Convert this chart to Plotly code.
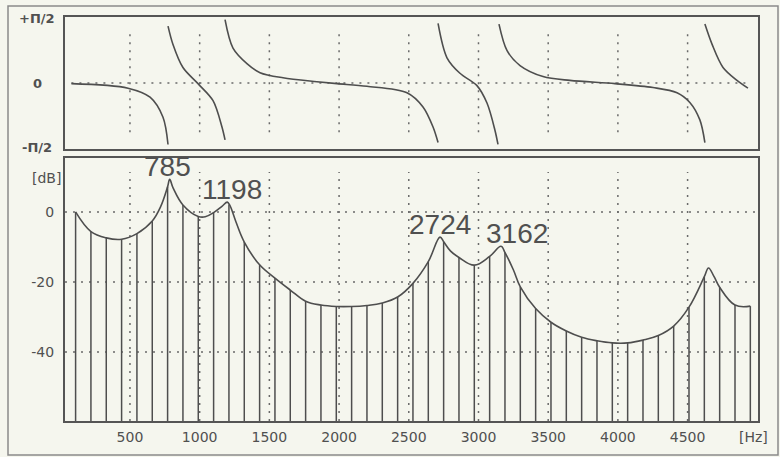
import plotly.graph_objects as go

# ---------------- data ----------------
# Spectral envelope (Hz, dB)
env_hz = [110, 220, 330, 440, 550, 660, 720, 770, 785, 810, 880, 990, 1040, 1100, 1160, 1198,
          1215, 1260, 1320, 1430, 1540, 1650, 1760, 1870, 1980, 2090, 2200, 2310, 2420,
          2530, 2640, 2724, 2750, 2800, 2860, 2970, 3080, 3162, 3190, 3250, 3300, 3410,
          3520, 3630, 3740, 3850, 3960, 4070, 4180, 4290, 4400, 4510, 4620, 4650, 4690,
          4730, 4840, 4950]
env_db = [0.0, -5.6, -7.4, -7.8, -6.2, -2.6, 1.5, 7.2, 9.3, 6.8, 2.0, -1.3, -1.4, -0.2, 1.6, 2.8,
          2.0, -2.8, -8.6, -15.1, -18.9, -22.3, -25.5, -26.6, -27.0, -27.0, -26.7, -26.0, -24.3,
          -20.4, -14.2, -7.2, -8.5, -11.2, -13.0, -15.2, -12.7, -9.8, -11.6, -16.5, -21.4, -27.6,
          -31.5, -34.0, -35.8, -36.8, -37.4, -37.4, -36.6, -35.3, -32.6, -27.2, -18.5, -16.0, -18.5,
          -21.5, -26.6, -26.9]

# Harmonic lines (Hz, dB)
harm_hz = [110, 220, 330, 440, 550, 660, 770, 880, 990, 1100, 1210, 1320, 1430, 1540, 1650,
           1760, 1870, 1980, 2090, 2200, 2310, 2420, 2530, 2640, 2750, 2860, 2970, 3080, 3190,
           3300, 3410, 3520, 3630, 3740, 3850, 3960, 4070, 4180, 4290, 4400, 4510, 4620, 4730,
           4840, 4950]
harm_db = [0.0, -5.6, -7.4, -7.8, -6.2, -2.6, 7.2, 2.0, -1.3, -0.2, 2.1, -8.6, -15.1, -18.9, -22.3,
           -25.5, -26.6, -27.0, -27.0, -26.7, -26.0, -24.3, -20.4, -14.2, -8.5, -13.0, -15.2, -12.7, -11.6,
           -21.4, -27.6, -31.5, -34.0, -35.8, -36.8, -37.4, -37.4, -36.6, -35.3, -32.6, -27.2, -18.5, -21.5,
           -26.6, -26.9]

# Formant peaks
peak_hz = [785, 1198, 2724, 3162]
peak_db = [9.3, 2.8, -7.2, -9.8]
peak_xshift = [-2, 5, 0, 16]

# Phase (in units of pi/2), branches separated by None
phase_hz = [80, 486, 644, 737, 773, None,
            773, 808, 880, 988, 1095, 1160, 1182, None,
            1182, 1239, 1339, 1433, 1598, 1841, 1985, 2200, 2487, 2602, 2674, 2710, None,
            2710, 2774, 2867, 2989, 3061, 3118, 3140, None,
            3147, 3205, 3298, 3463, 3656, 3979, 4252, 4424, 4516, 4588, 4624, None,
            4624, 4675, 4754, 4854, 4933]
phase_val = [-0.01, -0.08, -0.22, -0.53, -0.95, None,
             0.88, 0.60, 0.24, -0.01, -0.27, -0.68, -0.88, None,
             0.98, 0.54, 0.30, 0.16, 0.08, 0.02, -0.01, -0.05, -0.15, -0.37, -0.68, -0.92, None,
             0.92, 0.39, 0.15, -0.04, -0.31, -0.73, -0.95, None,
             0.91, 0.50, 0.27, 0.10, 0.04, -0.01, -0.07, -0.15, -0.30, -0.57, -0.92, None,
             0.91, 0.60, 0.24, 0.04, -0.08]

freq_ticks = [500, 1000, 1500, 2000, 2500, 3000, 3500, 4000, 4500]
db_ticks = [0, -20, -40]

# ---------------- style ----------------
W, H = 780, 457
BG = "#f5f6ee"
INK = "#4e4e4e"
GRID = "#6a6a6a"
X_RANGE = [34, 5005]
DB_RANGE = [-59.7, 15.4]
PH_RANGE = [-1.02, 1.02]


def px(x):
    return x / W


def py(y):
    return 1 - y / H


fig = go.Figure()

# harmonic lines from the floor up to their level
stem_x, stem_y = [], []
for f, v in zip(harm_hz, harm_db):
    stem_x += [f, f, None]
    stem_y += [DB_RANGE[0] - 1, v, None]
fig.add_trace(go.Scatter(x=stem_x, y=stem_y, mode="lines",
                         line=dict(color=INK, width=1.5), hoverinfo="skip",
                         xaxis="x", yaxis="y"))

# spectral envelope
fig.add_trace(go.Scatter(x=env_hz, y=env_db, mode="lines",
                         line=dict(color=INK, width=1.6, shape="spline", smoothing=1.1),
                         xaxis="x", yaxis="y"))

# phase
fig.add_trace(go.Scatter(x=phase_hz, y=phase_val, mode="lines", connectgaps=False,
                         line=dict(color=INK, width=1.6, shape="spline", smoothing=0.9),
                         xaxis="x2", yaxis="y2"))

shapes = []
dot = "2px,6px"
# dotted grid: amplitude panel
for f in freq_ticks:
    shapes.append(dict(type="line", xref="x", yref="y", x0=f, x1=f, y0=DB_RANGE[0], y1=11.4,
                       line=dict(color=GRID, width=1.5, dash=dot), layer="below"))
for d in db_ticks:
    shapes.append(dict(type="line", xref="x", yref="y", x0=X_RANGE[0], x1=X_RANGE[1], y0=d, y1=d,
                       line=dict(color=GRID, width=1.5, dash=dot), layer="below"))
# dotted grid: phase panel
for f in freq_ticks:
    shapes.append(dict(type="line", xref="x2", yref="y2", x0=f, x1=f, y0=-0.76, y1=0.76,
                       line=dict(color=GRID, width=1.5, dash=dot), layer="below"))
shapes.append(dict(type="line", xref="x2", yref="y2", x0=80, x1=4950, y0=0, y1=0,
                   line=dict(color=GRID, width=1.5, dash=dot), layer="below"))
# outer frame
shapes.append(dict(type="rect", xref="paper", yref="paper", x0=px(8), x1=px(778), y0=py(455), y1=py(6),
                   line=dict(color="#8a8a8a", width=1.5)))

annotations = []
for f, v, s in zip(peak_hz, peak_db, peak_xshift):
    annotations.append(dict(x=f, y=v, xref="x", yref="y", text=str(f), showarrow=False,
                            xanchor="center", yanchor="bottom", xshift=s, yshift=-5,
                            font=dict(family="Liberation Sans, Arial, sans-serif", size=28, color="#505050")))
# phase axis labels
for txt, val in [("+Π/2", 1.0), ("0", 0.0), ("-Π/2", -1.0)]:
    annotations.append(dict(x=px(37), y=val, xref="paper", yref="y2", text=f"<b>{txt}</b>",
                            showarrow=False, xanchor="center", yanchor="middle",
                            font=dict(family="DejaVu Sans", size=13, color="#505050")))
annotations.append(dict(x=px(46), y=py(178), xref="paper", yref="paper", text="[dB]", showarrow=False,
                        xanchor="center", yanchor="middle",
                        font=dict(family="DejaVu Sans", size=14, color="#505050")))
annotations.append(dict(x=px(753), y=py(437), xref="paper", yref="paper", text="[Hz]", showarrow=False,
                        xanchor="center", yanchor="middle",
                        font=dict(family="DejaVu Sans", size=14, color="#505050")))

axis_common = dict(showline=True, mirror=True, linecolor="#555555", linewidth=2,
                   showgrid=False, zeroline=False)

fig.update_layout(
    width=W, height=H,
    margin=dict(l=0, r=0, t=0, b=0),
    paper_bgcolor=BG, plot_bgcolor=BG,
    showlegend=False,
    shapes=shapes,
    annotations=annotations,
    xaxis=dict(domain=[px(65), px(758)], range=X_RANGE, anchor="y",
               tickvals=freq_ticks, ticks="", ticklabelstandoff=2,
               tickfont=dict(family="DejaVu Sans", size=14, color="#505050"), **axis_common),
    yaxis=dict(domain=[py(421), py(158)], range=DB_RANGE, anchor="x",
               tickvals=db_ticks, ticktext=[str(d) for d in db_ticks], ticks="",
               ticklabelstandoff=6,
               tickfont=dict(family="DejaVu Sans", size=14, color="#505050"), **axis_common),
    xaxis2=dict(domain=[px(65), px(758)], range=X_RANGE, anchor="y2", matches="x",
                showticklabels=False, ticks="", **axis_common),
    yaxis2=dict(domain=[py(149), py(17)], range=PH_RANGE, anchor="x2",
                showticklabels=False, ticks="", **axis_common),
)

fig.write_html("out.html")
